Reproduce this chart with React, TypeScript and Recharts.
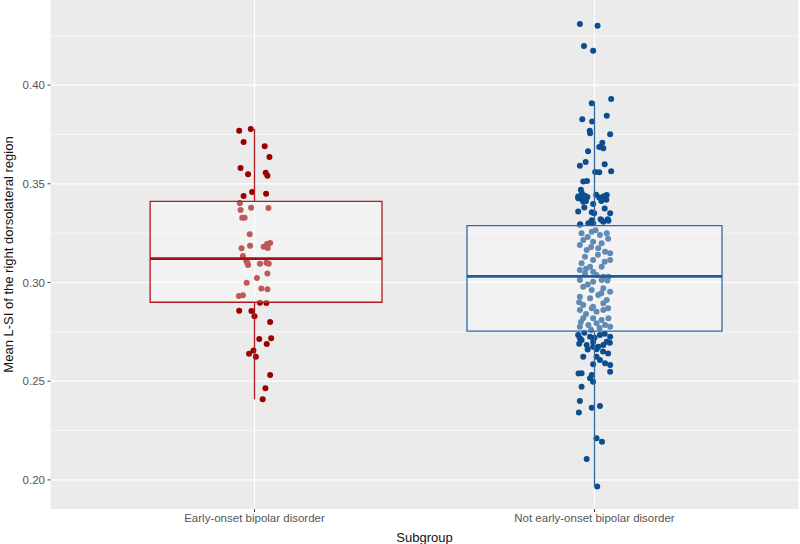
import React from 'react';
import {
  ComposedChart,
  Scatter,
  XAxis,
  YAxis,
  CartesianGrid,
  ReferenceArea,
  ReferenceLine,
  Label,
} from 'recharts';

const categories = ['Early-onset bipolar disorder', 'Not early-onset bipolar disorder'];
const categoryPositions = [1, 2];
const yTicks = [0.2, 0.25, 0.3, 0.35, 0.4];
const yMinorTicks = [0.225, 0.275, 0.325, 0.375, 0.425];
const yDomain = [0.18526, 0.4431];

const earlyValues = [
  0.3769, 0.3778, 0.3712, 0.369, 0.3636, 0.358, 0.3548, 0.3556, 0.3541, 0.3458, 0.3438, 0.345,
  0.3401, 0.3367, 0.3379, 0.3377, 0.3328, 0.3328, 0.3244, 0.3173, 0.3186, 0.3181, 0.3195, 0.32,
  0.3175, 0.3134, 0.311, 0.3099, 0.3089, 0.3095, 0.31, 0.3095, 0.3045, 0.3023, 0.2999, 0.2969,
  0.2966, 0.2932, 0.2935, 0.2898, 0.2896, 0.2857, 0.2856, 0.2829, 0.28, 0.2714, 0.2717, 0.2688,
  0.2639, 0.2655, 0.2624, 0.2531, 0.2464, 0.2408,
];
const earlyJitter = [
  -0.045, -0.011, -0.032, 0.03, 0.044, -0.041, -0.019, 0.033, 0.038, -0.007, -0.032, 0.034,
  -0.043, -0.041, -0.01, 0.041, -0.036, -0.029, -0.014, -0.038, -0.013, 0.027, 0.037, 0.046,
  0.039, -0.034, -0.024, -0.021, -0.019, 0.016, 0.035, 0.042, 0.038, 0.007, -0.023, 0.02,
  0.038, -0.046, -0.034, 0.016, 0.035, -0.045, -0.009, 0.0, 0.046, 0.014, 0.049, 0.036,
  -0.016, -0.003, 0.004, 0.046, 0.032, 0.024,
];

const notEarlyValues = [
  0.431, 0.4301, 0.4198, 0.4174, 0.393, 0.3908, 0.3845, 0.3827, 0.3815, 0.3769, 0.3756, 0.3751,
  0.3708, 0.3686, 0.368, 0.3665, 0.361, 0.3592, 0.3599, 0.356, 0.3558, 0.3563, 0.3511, 0.3514,
  0.3435, 0.3452, 0.344, 0.3423, 0.3433, 0.3409, 0.3413, 0.343, 0.3437, 0.3443, 0.3419, 0.3413,
  0.3398, 0.3427, 0.3359, 0.3356, 0.3351, 0.3351, 0.332, 0.3315, 0.3315, 0.33, 0.3295, 0.332,
  0.3313, 0.347, 0.3445, 0.338, 0.3375,
  0.3291, 0.33, 0.3308, 0.3249, 0.3257, 0.3241, 0.3249, 0.3215, 0.3207, 0.3199, 0.319, 0.3165,
  0.3173, 0.3156, 0.3148, 0.3131, 0.3114, 0.3114, 0.3097, 0.308, 0.308, 0.3063, 0.3055, 0.3047,
  0.3038, 0.3029, 0.3029, 0.3013, 0.3004, 0.3013, 0.2979, 0.2962, 0.2971, 0.2953, 0.2928, 0.292,
  0.2937, 0.2911, 0.2886, 0.2877, 0.2895, 0.2861, 0.2869, 0.2852, 0.2861, 0.2819, 0.2819, 0.281,
  0.2819, 0.2785, 0.2793, 0.2776, 0.2785, 0.2776,
  0.3265, 0.323, 0.3222, 0.318, 0.314, 0.3105, 0.307, 0.301, 0.299, 0.2945, 0.29, 0.287,
  0.284, 0.28, 0.277, 0.276,
  0.2734, 0.2717, 0.2709, 0.2725, 0.2734, 0.2725, 0.27, 0.2683, 0.2675, 0.2675, 0.2683, 0.2662,
  0.27, 0.2624, 0.2624, 0.2607, 0.2586, 0.2591, 0.2582, 0.2548, 0.254, 0.2531, 0.2515, 0.2497,
  0.2472, 0.2539, 0.24, 0.2342, 0.2366, 0.2374, 0.2211, 0.2193, 0.2106, 0.1966,
  0.2745, 0.274, 0.272, 0.269, 0.2695, 0.266, 0.265, 0.264,
];
const notEarlyJitter = [
  -0.043, 0.009, -0.031, -0.004, 0.049, -0.008, 0.036, -0.036, -0.007, -0.014, -0.013, 0.046,
  0.023, 0.014, 0.026, -0.019, -0.026, -0.043, 0.03, 0.002, 0.014, 0.049, -0.033, -0.022,
  -0.048, -0.037, -0.028, -0.039, -0.021, -0.033, -0.025, 0.014, 0.027, 0.036, 0.035, 0.02,
  -0.004, -0.048, -0.048, -0.008, -0.001, 0.046, 0.039, 0.021, -0.008, -0.004, -0.042, 0.018,
  0.041, -0.04, 0.005, -0.03, 0.03,
  -0.043, -0.018, 0.026, -0.038, -0.008, 0.016, 0.036, -0.033, -0.004, 0.021, -0.043, -0.023,
  0.011, 0.031, 0.046, -0.028, -0.004, 0.046, -0.038, -0.013, 0.021, -0.043, -0.004, -0.028,
  0.006, 0.026, 0.041, -0.043, -0.004, 0.021, -0.033, -0.008, 0.026, 0.046, -0.043, -0.013,
  0.011, 0.036, -0.033, -0.004, 0.026, -0.043, -0.008, 0.006, 0.026, -0.033, -0.004, 0.021,
  0.041, -0.018, 0.006, -0.043, 0.031, 0.046,
  0.003, -0.02, 0.04, -0.01, 0.01, 0.03, -0.025, 0.038, -0.02, 0.02, -0.045, 0.04,
  -0.025, -0.04, 0.015, -0.01,
  -0.048, -0.043, -0.038, -0.013, 0.016, 0.046, 0.036, -0.023, -0.004, 0.011, 0.026, 0.006,
  -0.004, -0.033, 0.006, 0.016, -0.004, 0.031, 0.046, 0.046, -0.038, -0.008, -0.013, -0.004,
  -0.038, -0.047, -0.043, -0.046, -0.008, 0.016, 0.006, 0.022, -0.023, 0.008,
  -0.03, 0.03, 0.0, -0.045, 0.045, -0.02, 0.025, 0.04,
];

// boxplot statistics: [lower whisker, Q1, median, Q3, upper whisker]
const earlyBoxStats = [0.2408, 0.29, 0.3121, 0.3411, 0.3778];
const notEarlyBoxStats = [0.1966, 0.2754, 0.3031, 0.3288, 0.3916];

const FONT = '"Liberation Sans", Arial, Helvetica, sans-serif';

const groups = [
  {
    pos: categoryPositions[0],
    stats: earlyBoxStats,
    values: earlyValues,
    jitter: earlyJitter,
    boxLeft: 0.307,
    boxRight: 0.375,
    point: '#990000',
    line: '#b01c22',
    median: '#a80f14',
  },
  {
    pos: categoryPositions[1],
    stats: notEarlyBoxStats,
    values: notEarlyValues,
    jitter: notEarlyJitter,
    boxLeft: 0.375,
    boxRight: 0.375,
    point: '#0c4d8e',
    line: '#2f6aa6',
    median: '#1e5c9c',
  },
];

const makeDot = (color: string) => (props: any) => (
  <circle cx={props.cx} cy={props.cy} r={3} fill={color} />
);

export default function App() {
  return (
    <div style={{ position: 'absolute', left: 0, top: 0, width: 800, height: 544, background: '#ffffff' }}>
      <ComposedChart width={800} height={544} margin={{ top: 0, right: 1.5, bottom: 0, left: 0 }}>
        <CartesianGrid
          fill="#ebebeb"
          stroke="#ffffff"
          strokeWidth={0.6}
          vertical={false}
          horizontalValues={yMinorTicks}
        />
        <CartesianGrid
          stroke="#ffffff"
          strokeWidth={1.2}
          horizontalValues={yTicks}
          verticalValues={categoryPositions}
        />
        <XAxis
          type="number"
          dataKey="x"
          domain={[0.4, 2.6]}
          ticks={categoryPositions}
          tickFormatter={(v: number) => categories[Math.round(v) - 1]}
          allowDataOverflow
          height={35}
          axisLine={false}
          tickSize={3}
          tickMargin={2}
          tickLine={{ stroke: '#444444' }}
          tick={{ fill: '#555555', fontSize: 11.5, fontFamily: FONT }}
        >
          <Label
            value="Subgroup"
            position="insideBottom"
            offset={2}
            style={{ fill: '#111111', fontSize: 13, fontFamily: FONT }}
          />
        </XAxis>
        <YAxis
          type="number"
          dataKey="y"
          domain={yDomain}
          ticks={yTicks}
          tickFormatter={(v: number) => v.toFixed(2)}
          allowDataOverflow
          width={50.5}
          axisLine={false}
          tickSize={3}
          tickMargin={2.5}
          tickLine={{ stroke: '#444444' }}
          tick={{ fill: '#555555', fontSize: 11.5, fontFamily: FONT }}
        >
          <Label
            value="Mean L-SI of the right dorsolateral region"
            angle={-90}
            position="insideLeft"
            offset={8}
            style={{ fill: '#111111', fontSize: 13, fontFamily: FONT, textAnchor: 'middle' }}
          />
        </YAxis>
        {groups.map((g, gi) => (
          <Scatter
            key={'s' + gi}
            data={g.values.map((v, i) => ({ x: g.pos + g.jitter[i], y: v }))}
            shape={makeDot(g.point)}
            isAnimationActive={false}
          />
        ))}
        {groups.map((g, gi) => (
          <ReferenceLine
            key={'wu' + gi}
            segment={[{ x: g.pos, y: g.stats[3] }, { x: g.pos, y: g.stats[4] }]}
            stroke={g.line}
            strokeWidth={1.3}
            zIndex={700}
          />
        ))}
        {groups.map((g, gi) => (
          <ReferenceLine
            key={'wl' + gi}
            segment={[{ x: g.pos, y: g.stats[0] }, { x: g.pos, y: g.stats[1] }]}
            stroke={g.line}
            strokeWidth={1.3}
            zIndex={700}
          />
        ))}
        {groups.map((g, gi) => (
          <ReferenceArea
            key={'b' + gi}
            x1={g.pos - g.boxLeft}
            x2={g.pos + g.boxRight}
            y1={g.stats[1]}
            y2={g.stats[3]}
            stroke={g.line}
            strokeWidth={1.3}
            fill="#ffffff"
            fillOpacity={0.35}
            ifOverflow="visible"
            zIndex={700}
          />
        ))}
        {groups.map((g, gi) => (
          <ReferenceLine
            key={'m' + gi}
            segment={[{ x: g.pos - g.boxLeft, y: g.stats[2] }, { x: g.pos + g.boxRight, y: g.stats[2] }]}
            stroke={g.median}
            strokeWidth={2.6}
            zIndex={710}
          />
        ))}
      </ComposedChart>
    </div>
  );
}
